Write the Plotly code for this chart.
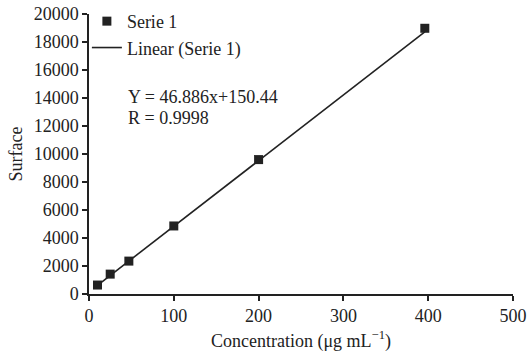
import plotly.graph_objects as go

conc = [10, 25, 47, 100, 200, 396]
surface = [640, 1420, 2350, 4860, 9600, 18980]
slope = 46.886
intercept = 150.44
r_value = 0.9998
fit_x = [conc[0], conc[-1]]
fit_y = [slope * v + intercept for v in fit_x]

xticks = [0, 100, 200, 300, 400, 500]
yticks = list(range(0, 20001, 2000))

font = "Liberation Serif, Times New Roman, serif"
ink = "#222222"

fig = go.Figure()
fig.add_trace(go.Scatter(x=conc, y=surface, mode="markers", name="Serie 1",
                         marker=dict(symbol="square", size=9, color=ink)))
fig.add_trace(go.Scatter(x=fit_x, y=fit_y, mode="lines", name="Linear (Serie 1)",
                         line=dict(color=ink, width=1.6)))

fig.add_annotation(xref="paper", yref="paper", x=0.088, y=0.670, xanchor="left", yanchor="middle",
                   text=f"Y = {slope}x+{intercept}", showarrow=False,
                   font=dict(family=font, size=18, color=ink))
fig.add_annotation(xref="paper", yref="paper", x=0.088, y=0.599, xanchor="left", yanchor="middle",
                   text=f"R = {r_value}", showarrow=False,
                   font=dict(family=font, size=18, color=ink))

fig.update_layout(
    width=528, height=353,
    margin=dict(l=89, r=15, t=0, b=59),
    paper_bgcolor="white", plot_bgcolor="white",
    font=dict(family=font, size=18, color=ink),
    showlegend=True,
    legend=dict(x=-0.005, y=0.99, xanchor="left", yanchor="top", bgcolor="rgba(0,0,0,0)",
                itemwidth=30, tracegroupgap=0, font=dict(size=18)),
    xaxis=dict(range=[0, 500], tickvals=xticks, tickformat="d", showline=True, linecolor=ink,
               linewidth=1.5, ticks="outside", ticklen=5, tickwidth=1.5, tickcolor=ink,
               showgrid=False, zeroline=False, automargin=False,
               title=dict(text="Concentration (μg mL<sup>−1</sup>)", standoff=9,
                          font=dict(size=18)),
               tickfont=dict(size=18)),
    yaxis=dict(range=[0, 20000], domain=[0, 280 / 294], tickvals=yticks, tickformat="d",
               showline=True, linecolor=ink,
               linewidth=1.5, ticks="outside", ticklen=5, tickwidth=1.5, tickcolor=ink,
               showgrid=False, zeroline=False, automargin=False,
               title=dict(text="Surface", standoff=6, font=dict(size=18)),
               tickfont=dict(size=18)),
)

fig.write_html("out.html")
